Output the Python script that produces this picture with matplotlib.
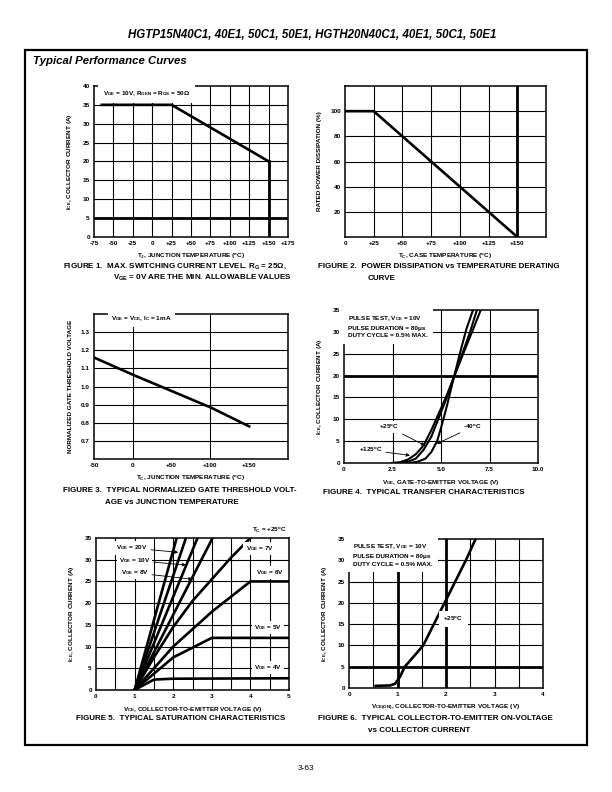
import matplotlib
matplotlib.use("Agg")
import matplotlib.pyplot as plt

plt.rcParams["font.family"] = ["Liberation Sans", "DejaVu Sans"]
plt.rcParams["font.weight"] = "bold"
plt.rcParams["mathtext.fontset"] = "custom"
plt.rcParams["mathtext.rm"] = "Liberation Sans:bold"
plt.rcParams["mathtext.it"] = "Liberation Sans:bold"
plt.rcParams["mathtext.bf"] = "Liberation Sans:bold"

# ---- data ----
# fig 1: max switching current vs junction temperature
f1_temp = [-65, 25, 150]
f1_current = [35, 35, 20]

# fig 2: power derating
f2_temp = [0, 25, 150]
f2_power = [100, 100, 0]

# fig 3: normalized gate threshold voltage
f3_temp = [-50, 0, 50, 100, 150]
f3_vth = [1.16, 1.065, 0.975, 0.885, 0.78]

# fig 4: transfer characteristics
f4_vge_m40 = [3.4, 3.8, 4.2, 4.5, 4.8, 5.0, 5.3, 5.67, 6.0, 6.3, 6.65]
f4_ice_m40 = [0, 0.3, 1.0, 2.5, 5, 8, 13, 19.7, 25.5, 30.5, 35]
f4_vge_25 = [2.9, 3.3, 3.7, 4.1, 4.5, 4.9, 5.3, 5.67, 6.1, 6.5, 6.85]
f4_ice_25 = [0, 0.3, 1.0, 3, 6, 10.5, 15, 19.7, 25, 30, 35]
f4_vge_125 = [2.45, 2.9, 3.3, 3.7, 4.1, 4.5, 4.9, 5.3, 5.67, 6.1, 6.6, 7.05]
f4_ice_125 = [0, 0.2, 0.8, 2, 4, 7.5, 11.5, 15.5, 19.7, 24.5, 30, 35]

# fig 5: saturation characteristics (one list per gate voltage)
f5_vce_20 = [1.0, 2.09]
f5_ice_20 = [0, 35]
f5_vce_15 = [1.0, 2.33]
f5_ice_15 = [0, 35]
f5_vce_10 = [1.0, 2.63]
f5_ice_10 = [0, 35]
f5_vce_8 = [1.0, 3.02]
f5_ice_8 = [0, 35]
f5_vce_7 = [1.0, 1.5, 2.0, 2.5, 3.0, 3.5, 4.0]
f5_ice_7 = [0, 7.5, 14.5, 20.5, 25.5, 30.5, 35]
f5_vce_6 = [1.0, 2.0, 3.0, 4.0, 5.0]
f5_ice_6 = [0, 10, 18, 25, 25]
f5_vce_5 = [1.0, 2.0, 3.0, 5.0]
f5_ice_5 = [0, 7.5, 12, 12]
f5_vce_4 = [1.0, 1.5, 2.0, 5.0]
f5_ice_4 = [0, 2.4, 2.6, 2.7]

# fig 6: collector-to-emitter on-voltage
f6_vce = [0.55, 0.85, 0.95, 1.05, 1.15, 1.35, 1.53, 1.75, 1.97, 2.19, 2.41, 2.61]
f6_ice = [0.5, 0.6, 1.0, 2.6, 5, 7.6, 10, 15, 20, 25, 30, 35]

W, H = 612, 792
fig = plt.figure(figsize=(W / 100, H / 100), dpi=100)

TICK = 4.6
LAB = 4.6
CAP = 5.8
THIN = 0.8
THICK = 2.0
CURVE = 1.9
WBOX = dict(facecolor="white", edgecolor="none", pad=1.5)


def px_axes(l, t, r, b):
    return fig.add_axes([l / W, 1 - b / H, (r - l) / W, (b - t) / H])


def setup(ax, xlim, ylim, xticks, xlabels, yticks, ylabels, xlabel, ylabel):
    ax.set_xlim(*xlim)
    ax.set_ylim(*ylim)
    ax.set_xticks(xticks)
    ax.set_xticklabels(xlabels, fontsize=TICK, fontweight="bold")
    ax.set_yticks(yticks)
    ax.set_yticklabels(ylabels, fontsize=TICK, fontweight="bold")
    ax.tick_params(length=0, pad=3)
    for s in ax.spines.values():
        s.set_linewidth(1.1)
    ax.set_xlabel(xlabel, fontsize=LAB, fontweight="bold", labelpad=4)
    ax.set_ylabel(ylabel, fontsize=LAB, fontweight="bold", labelpad=6)


def grid(ax, xs, ys):
    for x in xs:
        ax.axvline(x, color="k", lw=THIN, zorder=1)
    for y in ys:
        ax.axhline(y, color="k", lw=THIN, zorder=1)


# page decorations
fig.text(312 / W, 1 - 35 / H, "HGTP15N40C1, 40E1, 50C1, 50E1, HGTH20N40C1, 40E1, 50C1, 50E1",
         ha="center", va="center", fontsize=8.3, style="italic", fontweight="bold")
fig.patches.append(plt.Rectangle((25 / W, 1 - 745 / H), 562 / W, 695 / H,
                                 transform=fig.transFigure, fill=False, lw=1.6, color="k"))
fig.text(33 / W, 1 - 61 / H, "Typical Performance Curves", ha="left", va="center",
         fontsize=8.2, style="italic", fontweight="bold")
fig.text(306 / W, 1 - 768 / H, "3-63", ha="center", va="center", fontsize=6, fontweight="normal")

# ---------------- figure 1 ----------------
ax1 = px_axes(94, 86, 288, 236.7)
xt = list(range(-75, 176, 25))
setup(ax1, (-75, 175), (0, 40), xt, [f"+{v}" if v > 0 else str(v) for v in xt],
      range(0, 41, 5), [str(v) for v in range(0, 41, 5)],
      "T$_J$, JUNCTION TEMPERATURE ($^o$C)", "I$_{CE}$, COLLECTOR CURRENT (A)")
grid(ax1, range(-50, 151, 25), range(5, 36, 5))
ax1.axhline(5, color="k", lw=THICK, zorder=2)
ax1.plot([f1_temp[-1], f1_temp[-1]], [0, f1_current[-1]], color="k", lw=THICK, zorder=2)
ax1.plot(f1_temp, f1_current, color="k", lw=CURVE, zorder=3)
ax1.text(-63, 38, "V$_{GE}$ = 10V, R$_{GEN}$ = R$_{GS}$ = 50Ω", fontsize=4.6, va="center",
         bbox=dict(facecolor="white", edgecolor="none", pad=3.5), zorder=4)
fig.text(63 / W, 1 - 266 / H, "FIGURE 1.  MAX. SWITCHING CURRENT LEVEL. R$_G$ = 25Ω,",
         fontsize=CAP, va="center")
fig.text(113 / W, 1 - 278 / H, "V$_{GE}$ = 0V ARE THE MIN. ALLOWABLE VALUES",
         fontsize=CAP, va="center")

# ---------------- figure 2 ----------------
ax2 = px_axes(345, 86, 546, 237)
xt = list(range(0, 151, 25))
setup(ax2, (0, 175), (0, 120), xt, [f"+{v}" if v > 0 else str(v) for v in xt],
      range(20, 101, 20), [str(v) for v in range(20, 101, 20)],
      "T$_C$, CASE TEMPERATURE ($^o$C)", "RATED POWER DISSIPATION (%)")
grid(ax2, range(25, 151, 25), range(20, 101, 20))
ax2.axvline(f2_temp[-1], color="k", lw=THICK, zorder=2)
ax2.plot(f2_temp, f2_power, color="k", lw=CURVE, zorder=3)
fig.text(318 / W, 1 - 266 / H, "FIGURE 2.  POWER DISSIPATION vs TEMPERATURE DERATING",
         fontsize=CAP, va="center")
fig.text(368 / W, 1 - 278 / H, "CURVE", fontsize=CAP, va="center")

# ---------------- figure 3 ----------------
ax3 = px_axes(94, 314, 288, 459)
yt = [0.7, 0.8, 0.9, 1.0, 1.1, 1.2, 1.3]
setup(ax3, (-50, 200), (0.6, 1.4), [-50, 0, 50, 100, 150], ["-50", "0", "+50", "+100", "+150"],
      yt, [f"{v:.1f}" for v in yt],
      "T$_C$, JUNCTION TEMPERATURE ($^o$C)", "NORMALIZED GATE THRESHOLD VOLTAGE")
grid(ax3, [0, 100], yt)
ax3.plot(f3_temp, f3_vth, color="k", lw=CURVE, zorder=3)
ax3.text(-28, 1.372, "V$_{GE}$ = V$_{CE}$, I$_C$ = 1mA", fontsize=4.6, va="center",
         bbox=dict(facecolor="white", edgecolor="none", pad=2.5), zorder=4)
fig.text(63 / W, 1 - 491 / H, "FIGURE 3.  TYPICAL NORMALIZED GATE THRESHOLD VOLT-",
         fontsize=CAP, va="center")
fig.text(105 / W, 1 - 503 / H, "AGE vs JUNCTION TEMPERATURE", fontsize=CAP, va="center")

# ---------------- figure 4 ----------------
ax4 = px_axes(344, 310, 538, 463)
setup(ax4, (0, 10), (0, 35), [0, 2.5, 5, 7.5, 10], ["0", "2.5", "5.0", "7.5", "10.0"],
      range(0, 36, 5), [str(v) for v in range(0, 36, 5)],
      "V$_{GE}$, GATE-TO-EMITTER VOLTAGE (V)", "I$_{CE}$, COLLECTOR CURRENT (A)")
grid(ax4, [2.5, 5, 7.5], range(5, 31, 5))
ax4.axhline(20, color="k", lw=THICK, zorder=2)
for xs, ys in [(f4_vge_m40, f4_ice_m40), (f4_vge_25, f4_ice_25), (f4_vge_125, f4_ice_125)]:
    ax4.plot(xs, ys, color="k", lw=1.5, zorder=3)
ax4.text(0.2, 31.3, "PULSE TEST, V$_{CE}$ = 10V\nPULSE DURATION = 80μs\nDUTY CYCLE = 0.5% MAX.",
         fontsize=4.6, va="center", linespacing=1.7,
         bbox=dict(facecolor="white", edgecolor="none", pad=4), zorder=4)
arr = dict(arrowstyle="-|>", color="k", lw=0.6, mutation_scale=5, shrinkA=1, shrinkB=0)
ax4.annotate("+25$^o$C", xy=(4.17, 4.0), xytext=(2.32, 8.2), fontsize=4.6, ha="center",
             va="center", arrowprops=arr, bbox=WBOX, zorder=4)
ax4.annotate("+125$^o$C", xy=(3.4, 1.75), xytext=(1.37, 2.9), fontsize=4.6, ha="center",
             va="center", arrowprops=arr, bbox=WBOX, zorder=4)
ax4.annotate("-40$^o$C", xy=(4.78, 4.4), xytext=(6.63, 8.25), fontsize=4.6, ha="center",
             va="center", arrowprops=arr, bbox=WBOX, zorder=4)
fig.text(323 / W, 1 - 492 / H, "FIGURE 4.  TYPICAL TRANSFER CHARACTERISTICS",
         fontsize=CAP, va="center")

# ---------------- figure 5 ----------------
ax5 = px_axes(96, 538, 289, 690)
setup(ax5, (0, 5), (0, 35), range(0, 6), [str(v) for v in range(0, 6)],
      range(0, 36, 5), [str(v) for v in range(0, 36, 5)],
      "V$_{CE}$, COLLECTOR-TO-EMITTER VOLTAGE (V)", "I$_{CE}$, COLLECTOR CURRENT (A)")
grid(ax5, [0.5, 1, 1.5, 2, 2.5, 3, 3.5, 4, 4.5], range(5, 31, 5))
f5_curves = [(f5_vce_20, f5_ice_20), (f5_vce_15, f5_ice_15), (f5_vce_10, f5_ice_10),
             (f5_vce_8, f5_ice_8), (f5_vce_7, f5_ice_7), (f5_vce_6, f5_ice_6),
             (f5_vce_5, f5_ice_5), (f5_vce_4, f5_ice_4)]
for xs, ys in f5_curves:
    ax5.plot(xs, ys, color="k", lw=CURVE, zorder=3)
ax5.text(0.99, 1.05, "T$_C$ = +25$^o$C", transform=ax5.transAxes, ha="right", va="center",
         fontsize=4.6)
for txt, pos in [("V$_{GE}$ = 7V", (4.23, 32.5)), ("V$_{GE}$ = 6V", (4.5, 27.0)),
                 ("V$_{GE}$ = 5V", (4.46, 14.3)), ("V$_{GE}$ = 4V", (4.46, 5.1))]:
    ax5.text(pos[0], pos[1], txt, fontsize=4.6, ha="center", va="center", bbox=WBOX, zorder=4)
for txt, pos, tip in [("V$_{GE}$ = 20V", (0.93, 32.7), (2.13, 31.7)),
                      ("V$_{GE}$ = 10V", (1.0, 29.8), (2.33, 28.8)),
                      ("V$_{GE}$ = 8V", (1.0, 27.0), (2.5, 25.5))]:
    ax5.annotate(txt, xy=tip, xytext=pos, fontsize=4.6, ha="center", va="center",
                 arrowprops=arr, bbox=WBOX, zorder=4)
fig.text(76 / W, 1 - 718 / H, "FIGURE 5.  TYPICAL SATURATION CHARACTERISTICS",
         fontsize=CAP, va="center")

# ---------------- figure 6 ----------------
ax6 = px_axes(349, 539, 543, 688)
setup(ax6, (0, 4), (0, 35), range(0, 5), [str(v) for v in range(0, 5)],
      range(0, 36, 5), [str(v) for v in range(0, 36, 5)],
      "V$_{CE(ON)}$, COLLECTOR-TO-EMITTER VOLTAGE (V)", "I$_{CE}$, COLLECTOR CURRENT (A)")
grid(ax6, [0.5, 1.5, 2.5, 3, 3.5], [10, 15, 20, 25, 30])
ax6.axhline(5, color="k", lw=THICK, zorder=2)
ax6.axvline(1, color="k", lw=THICK, zorder=2)
ax6.axvline(2, color="k", lw=THICK, zorder=2)
ax6.plot(f6_vce, f6_ice, color="k", lw=CURVE, zorder=3)
ax6.text(0.08, 31.4, "PULSE TEST, V$_{GE}$ = 10V\nPULSE DURATION = 80μs\nDUTY CYCLE = 0.5% MAX.",
         fontsize=4.6, va="center", linespacing=1.7,
         bbox=dict(facecolor="white", edgecolor="none", pad=4), zorder=4)
ax6.text(2.15, 16.2, "+25$^o$C", fontsize=4.6, ha="center", va="center",
         bbox=dict(facecolor="white", edgecolor="none", pad=3), zorder=4)
fig.text(318 / W, 1 - 718 / H, "FIGURE 6.  TYPICAL COLLECTOR-TO-EMITTER ON-VOLTAGE",
         fontsize=CAP, va="center")
fig.text(368 / W, 1 - 730 / H, "vs COLLECTOR CURRENT", fontsize=CAP, va="center")

fig.savefig("out.png", dpi=100)
